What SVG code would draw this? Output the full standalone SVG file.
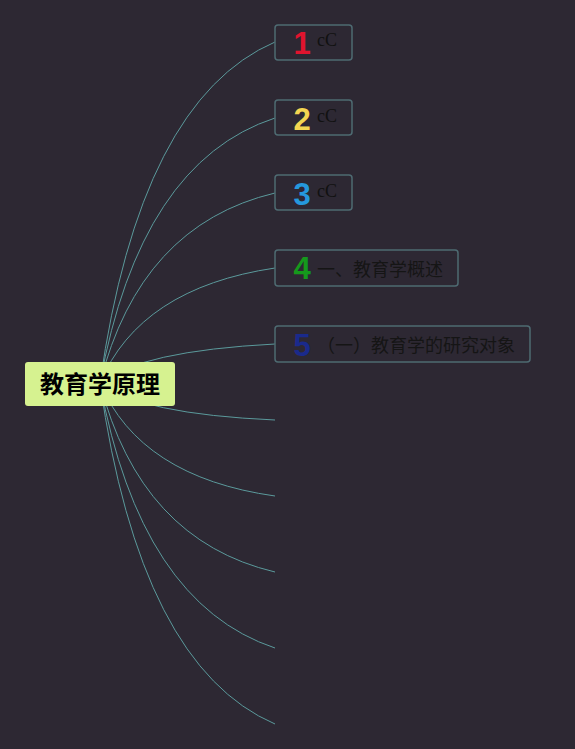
<svg xmlns="http://www.w3.org/2000/svg" width="575" height="749" viewBox="0 0 575 749">
<style>
.bg{fill:#2d2833}
.edge{fill:none;stroke:#5b9a9c;stroke-width:1}
.box{fill:#2d2833;stroke:#4e6b72;stroke-width:1.5}
.num{font-family:"Liberation Sans",Arial,sans-serif;font-weight:bold;font-size:31px;text-anchor:middle}
.cc{font-family:"Liberation Serif","Times New Roman",serif;font-size:18px;fill:#111}
.zh{font-family:"Noto Sans CJK SC","Noto Sans",sans-serif;font-size:18px;fill:#151515}
.root{font-family:"Noto Sans CJK SC","Noto Sans",sans-serif;font-size:24px;font-weight:bold;fill:#000;text-anchor:middle}
</style>
<rect class="bg" x="0" y="0" width="575" height="749"/>
<g id="connectors">
<path class="edge" d="M100,383 Q140,100 275,42"/>
<path class="edge" d="M100,383 Q140,162 275,118"/>
<path class="edge" d="M100,383 Q140,225 275,193"/>
<path class="edge" d="M100,383 Q140,288 275,268"/>
<path class="edge" d="M100,383 Q140,351 275,344"/>
<path class="edge" d="M100,383 Q140,414 275,420"/>
<path class="edge" d="M100,383 Q140,477 275,496"/>
<path class="edge" d="M100,383 Q140,540 275,572"/>
<path class="edge" d="M100,383 Q140,603 275,648"/>
<path class="edge" d="M100,383 Q140,666 275,724"/>
</g>
<g id="root">
<rect x="25" y="362" width="150" height="44" rx="3" fill="#d6f290"/>
<text class="root" x="100" y="393">教育学原理</text>
</g>
<g id="node1">
<rect class="box" x="275" y="25" width="77" height="35" rx="3"/>
<text class="num" x="302" y="54" fill="#e0142e">1</text>
<text class="cc" x="317" y="46">cC</text>
</g>
<g id="node2">
<rect class="box" x="275" y="100" width="77" height="35" rx="3"/>
<text class="num" x="302" y="130" fill="#f3d651">2</text>
<text class="cc" x="317" y="122">cC</text>
</g>
<g id="node3">
<rect class="box" x="275" y="175" width="77" height="35" rx="3"/>
<text class="num" x="302" y="204.5" fill="#2598dc">3</text>
<text class="cc" x="317" y="197">cC</text>
</g>
<g id="node4">
<rect class="box" x="275" y="250" width="183" height="36" rx="3"/>
<text class="num" x="302" y="278.5" fill="#15991c">4</text>
<text class="zh" x="317" y="276">一、教育学概述</text>
</g>
<g id="node5">
<rect class="box" x="275" y="326" width="255" height="36" rx="3"/>
<text class="num" x="302" y="356" fill="#1a2a8c">5</text>
<text class="zh" x="317" y="352">（一）教育学的研究对象</text>
</g>
</svg>
